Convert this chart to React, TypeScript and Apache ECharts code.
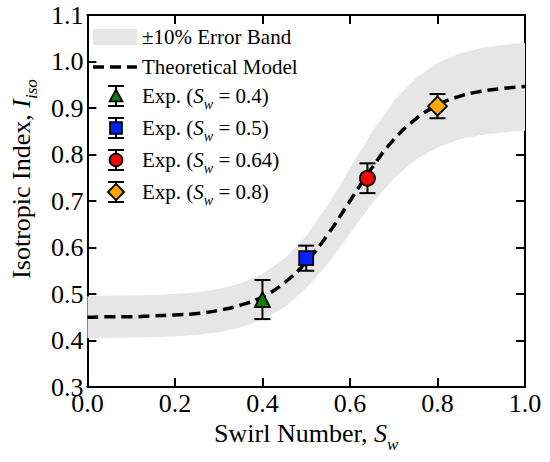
import React, { useEffect, useRef } from 'react';
import * as echarts from 'echarts';

// ---- data ----
const modelX = [0, 0.05, 0.1, 0.15, 0.2, 0.25, 0.3, 0.35, 0.4, 0.45, 0.5, 0.55, 0.6, 0.65, 0.7, 0.75, 0.8, 0.85, 0.9, 0.95, 1.0];
const modelY = [0.450, 0.451, 0.451, 0.453, 0.455, 0.458, 0.465, 0.476, 0.494, 0.524, 0.569, 0.629, 0.700, 0.771, 0.832, 0.876, 0.906, 0.925, 0.936, 0.942, 0.946];
const bandUpper = [0.495, 0.496, 0.497, 0.498, 0.500, 0.504, 0.511, 0.523, 0.543, 0.576, 0.625, 0.692, 0.770, 0.848, 0.915, 0.964, 0.997, 1.017, 1.029, 1.036, 1.040];
const bandLower = [0.405, 0.406, 0.406, 0.407, 0.409, 0.412, 0.418, 0.428, 0.445, 0.471, 0.512, 0.566, 0.630, 0.694, 0.748, 0.789, 0.815, 0.832, 0.842, 0.848, 0.851];

const expX = [0.4, 0.5, 0.64, 0.8];
const expY = [0.488, 0.577, 0.749, 0.904];
const expErr = [0.042, 0.027, 0.032, 0.026];
const expLabels = ['0.4', '0.5', '0.64', '0.8'];
const expSymbols = ['triangle', 'rect', 'circle', 'diamond'];
const expSizes = [15, 14, 15, 19];
const expColors = ['#0a820a', '#0022ff', '#ff0000', '#ffa500'];

const xMin = 0, xMax = 1, xStep = 0.2;
const yMin = 0.3, yMax = 1.1, yStep = 0.1;

const FONT = 'Liberation Serif, Times New Roman, serif';
const BAND = '#e6e6e6';

export default function App() {
  const ref = useRef<HTMLDivElement>(null);

  useEffect(() => {
    document.body.style.margin = '0';
    const chart = echarts.init(ref.current!, null, { renderer: 'svg' });

    const axisCommon = {
      type: 'value' as const,
      axisLine: { show: true, onZero: false, lineStyle: { color: '#000', width: 2 } },
      axisTick: { show: true, inside: true, length: 9, lineStyle: { color: '#000', width: 2 } },
      splitLine: { show: false },
    };

    const labelStyle = { color: '#000', fontFamily: FONT, fontSize: 26 };

    const richBase = {
      n: { fontFamily: FONT, fontSize: 26, color: '#000' },
      i: { fontFamily: FONT, fontSize: 26, fontStyle: 'italic', color: '#000' },
      s: { fontFamily: FONT, fontSize: 17, fontStyle: 'italic', color: '#000', verticalAlign: 'bottom', padding: [0, 0, -6, 0] },
    };

    const legendRich = {
      n: { fontFamily: FONT, fontSize: 21, color: '#000' },
      i: { fontFamily: FONT, fontSize: 21, fontStyle: 'italic', color: '#000' },
      s: { fontFamily: FONT, fontSize: 14, fontStyle: 'italic', color: '#000', verticalAlign: 'bottom', padding: [0, 0, -5, 0] },
    };

    const legX = 93;
    const legIconW = 44;
    const legTextX = 142;
    const rowY = [37, 67, 96, 128, 160, 192];
    const mx = legX + legIconW / 2 + 1;

    const legendEls: any[] = [];
    legendEls.push({ type: 'rect', shape: { x: legX, y: rowY[0] - 8, width: legIconW, height: 16 }, style: { fill: BAND } });
    legendEls.push({ type: 'text', x: legTextX, y: rowY[0], style: { text: '±10% Error Band', fontFamily: FONT, fontSize: 21, fill: '#000', verticalAlign: 'middle' } });
    legendEls.push({ type: 'line', shape: { x1: legX, y1: rowY[1], x2: legX + legIconW, y2: rowY[1] }, style: { stroke: '#000', lineWidth: 3.5, lineDash: [11, 6] } });
    legendEls.push({ type: 'text', x: legTextX, y: rowY[1], style: { text: 'Theoretical Model', fontFamily: FONT, fontSize: 21, fill: '#000', verticalAlign: 'middle' } });
    expLabels.forEach((lab, k) => {
      const y = rowY[k + 2];
      const h = 10, cw = 8;
      legendEls.push({ type: 'line', shape: { x1: mx, y1: y - h, x2: mx, y2: y + h }, style: { stroke: '#000', lineWidth: 2 } });
      legendEls.push({ type: 'line', shape: { x1: mx - cw, y1: y - h, x2: mx + cw, y2: y - h }, style: { stroke: '#000', lineWidth: 2 } });
      legendEls.push({ type: 'line', shape: { x1: mx - cw, y1: y + h, x2: mx + cw, y2: y + h }, style: { stroke: '#000', lineWidth: 2 } });
      const sz = expSizes[k] * 0.85;
      const st = { fill: expColors[k], stroke: '#000', lineWidth: 1.8 };
      if (expSymbols[k] === 'triangle') {
        legendEls.push({ type: 'polygon', shape: { points: [[mx, y - sz / 2], [mx + sz / 2, y + sz / 2 - 1], [mx - sz / 2, y + sz / 2 - 1]] }, style: st });
      } else if (expSymbols[k] === 'rect') {
        legendEls.push({ type: 'rect', shape: { x: mx - sz / 2, y: y - sz / 2, width: sz, height: sz }, style: st });
      } else if (expSymbols[k] === 'circle') {
        legendEls.push({ type: 'circle', shape: { cx: mx, cy: y, r: sz / 2 }, style: st });
      } else {
        legendEls.push({ type: 'polygon', shape: { points: [[mx, y - sz / 2], [mx + sz / 2, y], [mx, y + sz / 2], [mx - sz / 2, y]] }, style: st });
      }
      legendEls.push({
        type: 'text', x: legTextX, y,
        style: { text: `{n|Exp. (}{i|S}{s|w}{n| = ${lab})}`, rich: legendRich, verticalAlign: 'middle' },
      });
    });

    const pairs = (xs: number[], ys: number[]) => xs.map((x, i) => [x, ys[i]]);

    const option: any = {
      animation: false,
      backgroundColor: '#fff',
      textStyle: { fontFamily: FONT },
      grid: { left: 81, right: 25, top: 15, bottom: 75, show: false },
      xAxis: [
        {
          ...axisCommon, min: xMin, max: xMax, interval: xStep, position: 'bottom',
          axisLabel: { ...labelStyle, margin: 3, formatter: (v: number) => v.toFixed(1) },
          name: '{n|Swirl Number, }{i|S}{s|w}', nameLocation: 'middle', nameGap: 33,
          nameTextStyle: { rich: richBase },
        },
        {
          ...axisCommon, min: xMin, max: xMax, interval: xStep, position: 'top',
          axisLabel: { show: false },
        },
      ],
      yAxis: [
        {
          ...axisCommon, min: yMin, max: yMax, interval: yStep, position: 'left',
          axisLabel: { ...labelStyle, margin: 4, formatter: (v: number) => v.toFixed(1) },
          name: '{n|Isotropic Index, }{i|I}{s|iso}', nameLocation: 'middle', nameGap: 39,
          nameTextStyle: { rich: richBase, padding: [0, 0, 0, 44] },
        },
        {
          ...axisCommon, min: yMin, max: yMax, interval: yStep, position: 'right',
          axisLabel: { show: false },
        },
      ],
      series: [
        {
          type: 'custom', name: '±10% Error Band', z: 1, silent: true, clip: true,
          data: modelX.map((x, i) => [x, bandLower[i], bandUpper[i]]),
          encode: { x: 0, y: [1, 2] },
          renderItem: (params: any, api: any) => {
            if (params.dataIndex !== 0) return null;
            const up = modelX.map((x, i) => api.coord([x, bandUpper[i]]));
            const lo = modelX.map((x, i) => api.coord([x, bandLower[i]])).reverse();
            return {
              type: 'polygon',
              shape: { points: up.concat(lo) },
              style: { fill: BAND, stroke: 'none' },
            };
          },
        },
        {
          type: 'line', name: 'Theoretical Model', data: pairs(modelX, modelY), smooth: true, symbol: 'none',
          lineStyle: { color: '#000', width: 3.5, type: [11, 6] }, z: 2,
        },
        {
          type: 'custom', name: 'errorbars', z: 3,
          data: expX.map((x, i) => [x, expY[i], expErr[i]]),
          renderItem: (params: any, api: any) => {
            const x = api.value(0), y = api.value(1), e = api.value(2);
            const top = api.coord([x, y + e]);
            const bot = api.coord([x, y - e]);
            const cw = 8;
            const style = { stroke: '#000', lineWidth: 2 };
            return {
              type: 'group',
              children: [
                { type: 'line', shape: { x1: top[0], y1: top[1], x2: bot[0], y2: bot[1] }, style },
                { type: 'line', shape: { x1: top[0] - cw, y1: top[1], x2: top[0] + cw, y2: top[1] }, style },
                { type: 'line', shape: { x1: bot[0] - cw, y1: bot[1], x2: bot[0] + cw, y2: bot[1] }, style },
              ],
            };
          },
        },
        ...expX.map((x, i) => ({
          type: 'scatter', name: `Exp ${expLabels[i]}`, z: 4,
          data: [[x, expY[i]]],
          symbol: expSymbols[i], symbolSize: expSizes[i],
          itemStyle: { color: expColors[i], borderColor: '#000', borderWidth: 1.8, opacity: 1 },
        })),
      ],
      graphic: [{ type: 'group', children: legendEls, z: 10 }],
    };

    chart.setOption(option);
    return () => chart.dispose();
  }, []);

  return <div ref={ref} style={{ width: 550, height: 462 }} />;
}
